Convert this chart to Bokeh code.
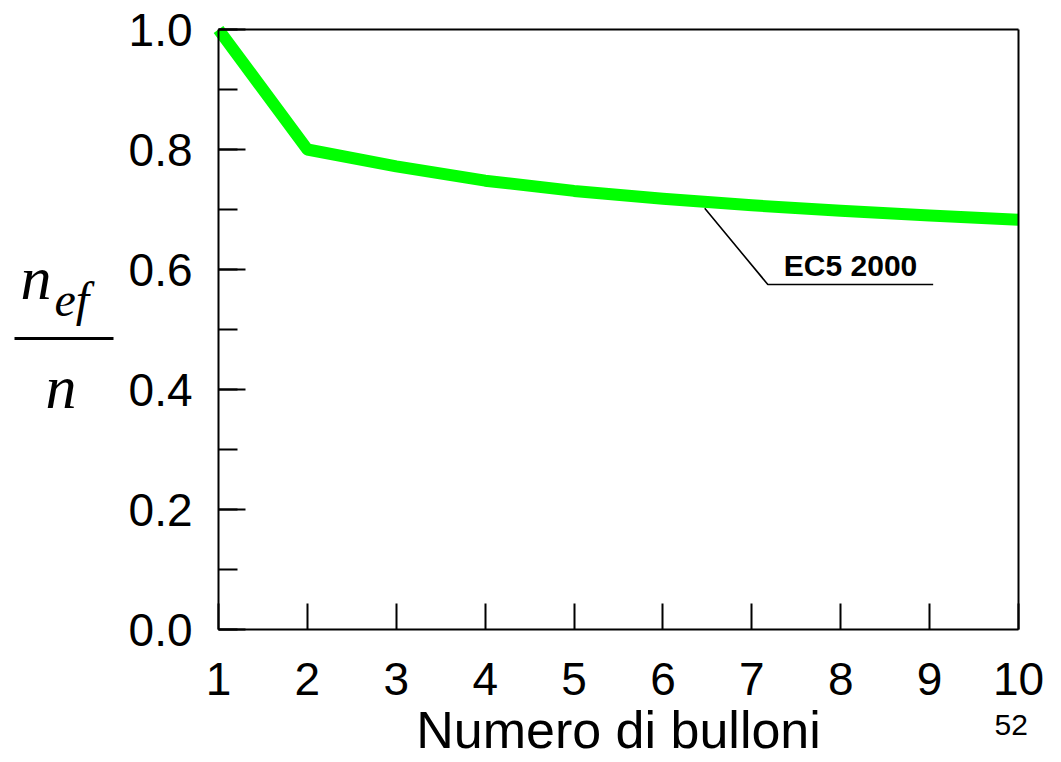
from bokeh.plotting import figure
from bokeh.models import (Range1d, FixedTicker, SingleIntervalTicker,
                          PrintfTickFormatter, Label, BoxAnnotation, LinearAxis)
from bokeh.embed import file_html
from bokeh.resources import INLINE

# ---- data ----
bolts = [1, 2, 3, 4, 5, 6, 7, 8, 9, 10]
ratio = [1.0, 0.80, 0.772, 0.748, 0.731, 0.718, 0.707, 0.698, 0.690, 0.683]
x_ticks = [1, 2, 3, 4, 5, 6, 7, 8, 9, 10]
x_bounds = (1, 10)
y_bounds = (0, 1.0)
series_name = "EC5 2000"
leader_x = [6.47, 7.18, 9.04]
leader_y = [0.702, 0.575, 0.575]
label_pos = (7.36, 0.606)
x_title = "Numero di bulloni"
page_no = "52"

SANS = "Liberation Sans"
SERIF = "Liberation Serif"

# ---- layout (pixels) ----
W, H = 1045, 762
BOX_L, BOX_R, BOX_T, BOX_B = 218, 1018, 29, 629
px_x = (BOX_R - BOX_L) / (x_bounds[1] - x_bounds[0])
px_y = (BOX_B - BOX_T) / (y_bounds[1] - y_bounds[0])
x_range = Range1d(x_bounds[0] - BOX_L / px_x, x_bounds[1] + (W - BOX_R) / px_x)
y_range = Range1d(y_bounds[0] - (H - BOX_B) / px_y, y_bounds[1] + BOX_T / px_y)

p = figure(width=W, height=H, x_range=x_range, y_range=y_range,
           output_backend="svg", toolbar_location=None,
           x_axis_location=None, y_axis_location=None,
           min_border=0)
p.title.visible = False
p.xgrid.visible = False
p.ygrid.visible = False
p.background_fill_color = "white"
p.border_fill_color = "white"
p.outline_line_color = None

# curve
p.line(bolts, ratio, line_color="#00ff00", line_width=12, line_join="round")

# leader line + label
p.line(leader_x, leader_y, line_color="black", line_width=1.6)
p.add_layout(Label(x=label_pos[0], y=label_pos[1], text=series_name,
                   text_font=SANS, text_font_style="bold",
                   text_font_size="30px", text_color="black",
                   text_baseline="alphabetic", text_align="left"))

# x axis
xa = LinearAxis(fixed_location=y_bounds[0], bounds=x_bounds,
                ticker=FixedTicker(ticks=x_ticks))
xa.axis_line_width = 2
xa.axis_line_color = "black"
xa.major_tick_in = 26
xa.major_tick_out = 0
xa.major_tick_line_width = 2
xa.major_tick_line_color = "black"
xa.minor_tick_line_color = None
xa.major_label_text_font = SANS
xa.major_label_text_font_size = "46px"
xa.major_label_text_color = "black"
xa.major_label_standoff = 33
xa.axis_label = x_title
xa.axis_label_text_font = SANS
xa.axis_label_text_font_size = "52px"
xa.axis_label_text_font_style = "normal"
xa.axis_label_text_color = "black"
xa.axis_label_standoff = 3
p.add_layout(xa, "below")

# y axis
ya = LinearAxis(fixed_location=x_bounds[0], bounds=y_bounds,
                ticker=SingleIntervalTicker(interval=0.2, num_minor_ticks=2),
                formatter=PrintfTickFormatter(format="%.1f"))
ya.axis_line_width = 2
ya.axis_line_color = "black"
ya.major_tick_in = 27
ya.major_tick_out = 0
ya.minor_tick_in = 19
ya.minor_tick_out = 0
ya.major_tick_line_width = 2
ya.minor_tick_line_width = 2
ya.major_tick_line_color = "black"
ya.minor_tick_line_color = "black"
ya.major_label_text_font = SANS
ya.major_label_text_font_size = "46px"
ya.major_label_text_color = "black"
ya.major_label_standoff = 26
p.add_layout(ya, "left")

# box: top and right edges
ta = LinearAxis(fixed_location=y_bounds[1], bounds=x_bounds,
                ticker=FixedTicker(ticks=[]))
ta.axis_line_width = 2
ta.axis_line_color = "black"
ta.major_tick_line_color = None
ta.minor_tick_line_color = None
p.add_layout(ta, "above")
ra = LinearAxis(fixed_location=x_bounds[1], bounds=y_bounds,
                ticker=FixedTicker(ticks=[]))
ra.axis_line_width = 2
ra.axis_line_color = "black"
ra.major_tick_line_color = None
ra.minor_tick_line_color = None
p.add_layout(ra, "right")

# page number
p.add_layout(Label(x=994, y=H - 724, x_units="screen", y_units="screen",
                   text=page_no, text_font=SANS, text_font_size="30px",
                   text_color="black", text_baseline="alphabetic"))

# y title: fraction n_ef / n
p.add_layout(Label(x=20, y=H - 277, x_units="screen", y_units="screen",
                   text="n", text_font=SERIF, text_font_style="italic",
                   text_font_size="62px", text_color="black",
                   text_baseline="alphabetic"))
p.add_layout(Label(x=54, y=H - 299, x_units="screen", y_units="screen",
                   text="ef", text_font=SERIF, text_font_style="italic",
                   text_font_size="48px", text_color="black",
                   text_baseline="alphabetic"))
p.add_layout(BoxAnnotation(left=14, right=113, bottom=H - 339.5, top=H - 336.5,
                           left_units="screen", right_units="screen",
                           bottom_units="screen", top_units="screen",
                           fill_color="black", fill_alpha=1.0,
                           line_color=None))
p.add_layout(Label(x=45, y=H - 386, x_units="screen", y_units="screen",
                   text="n", text_font=SERIF, text_font_style="italic",
                   text_font_size="62px", text_color="black",
                   text_baseline="alphabetic"))

open("out.html", "w").write(file_html(p, INLINE))
